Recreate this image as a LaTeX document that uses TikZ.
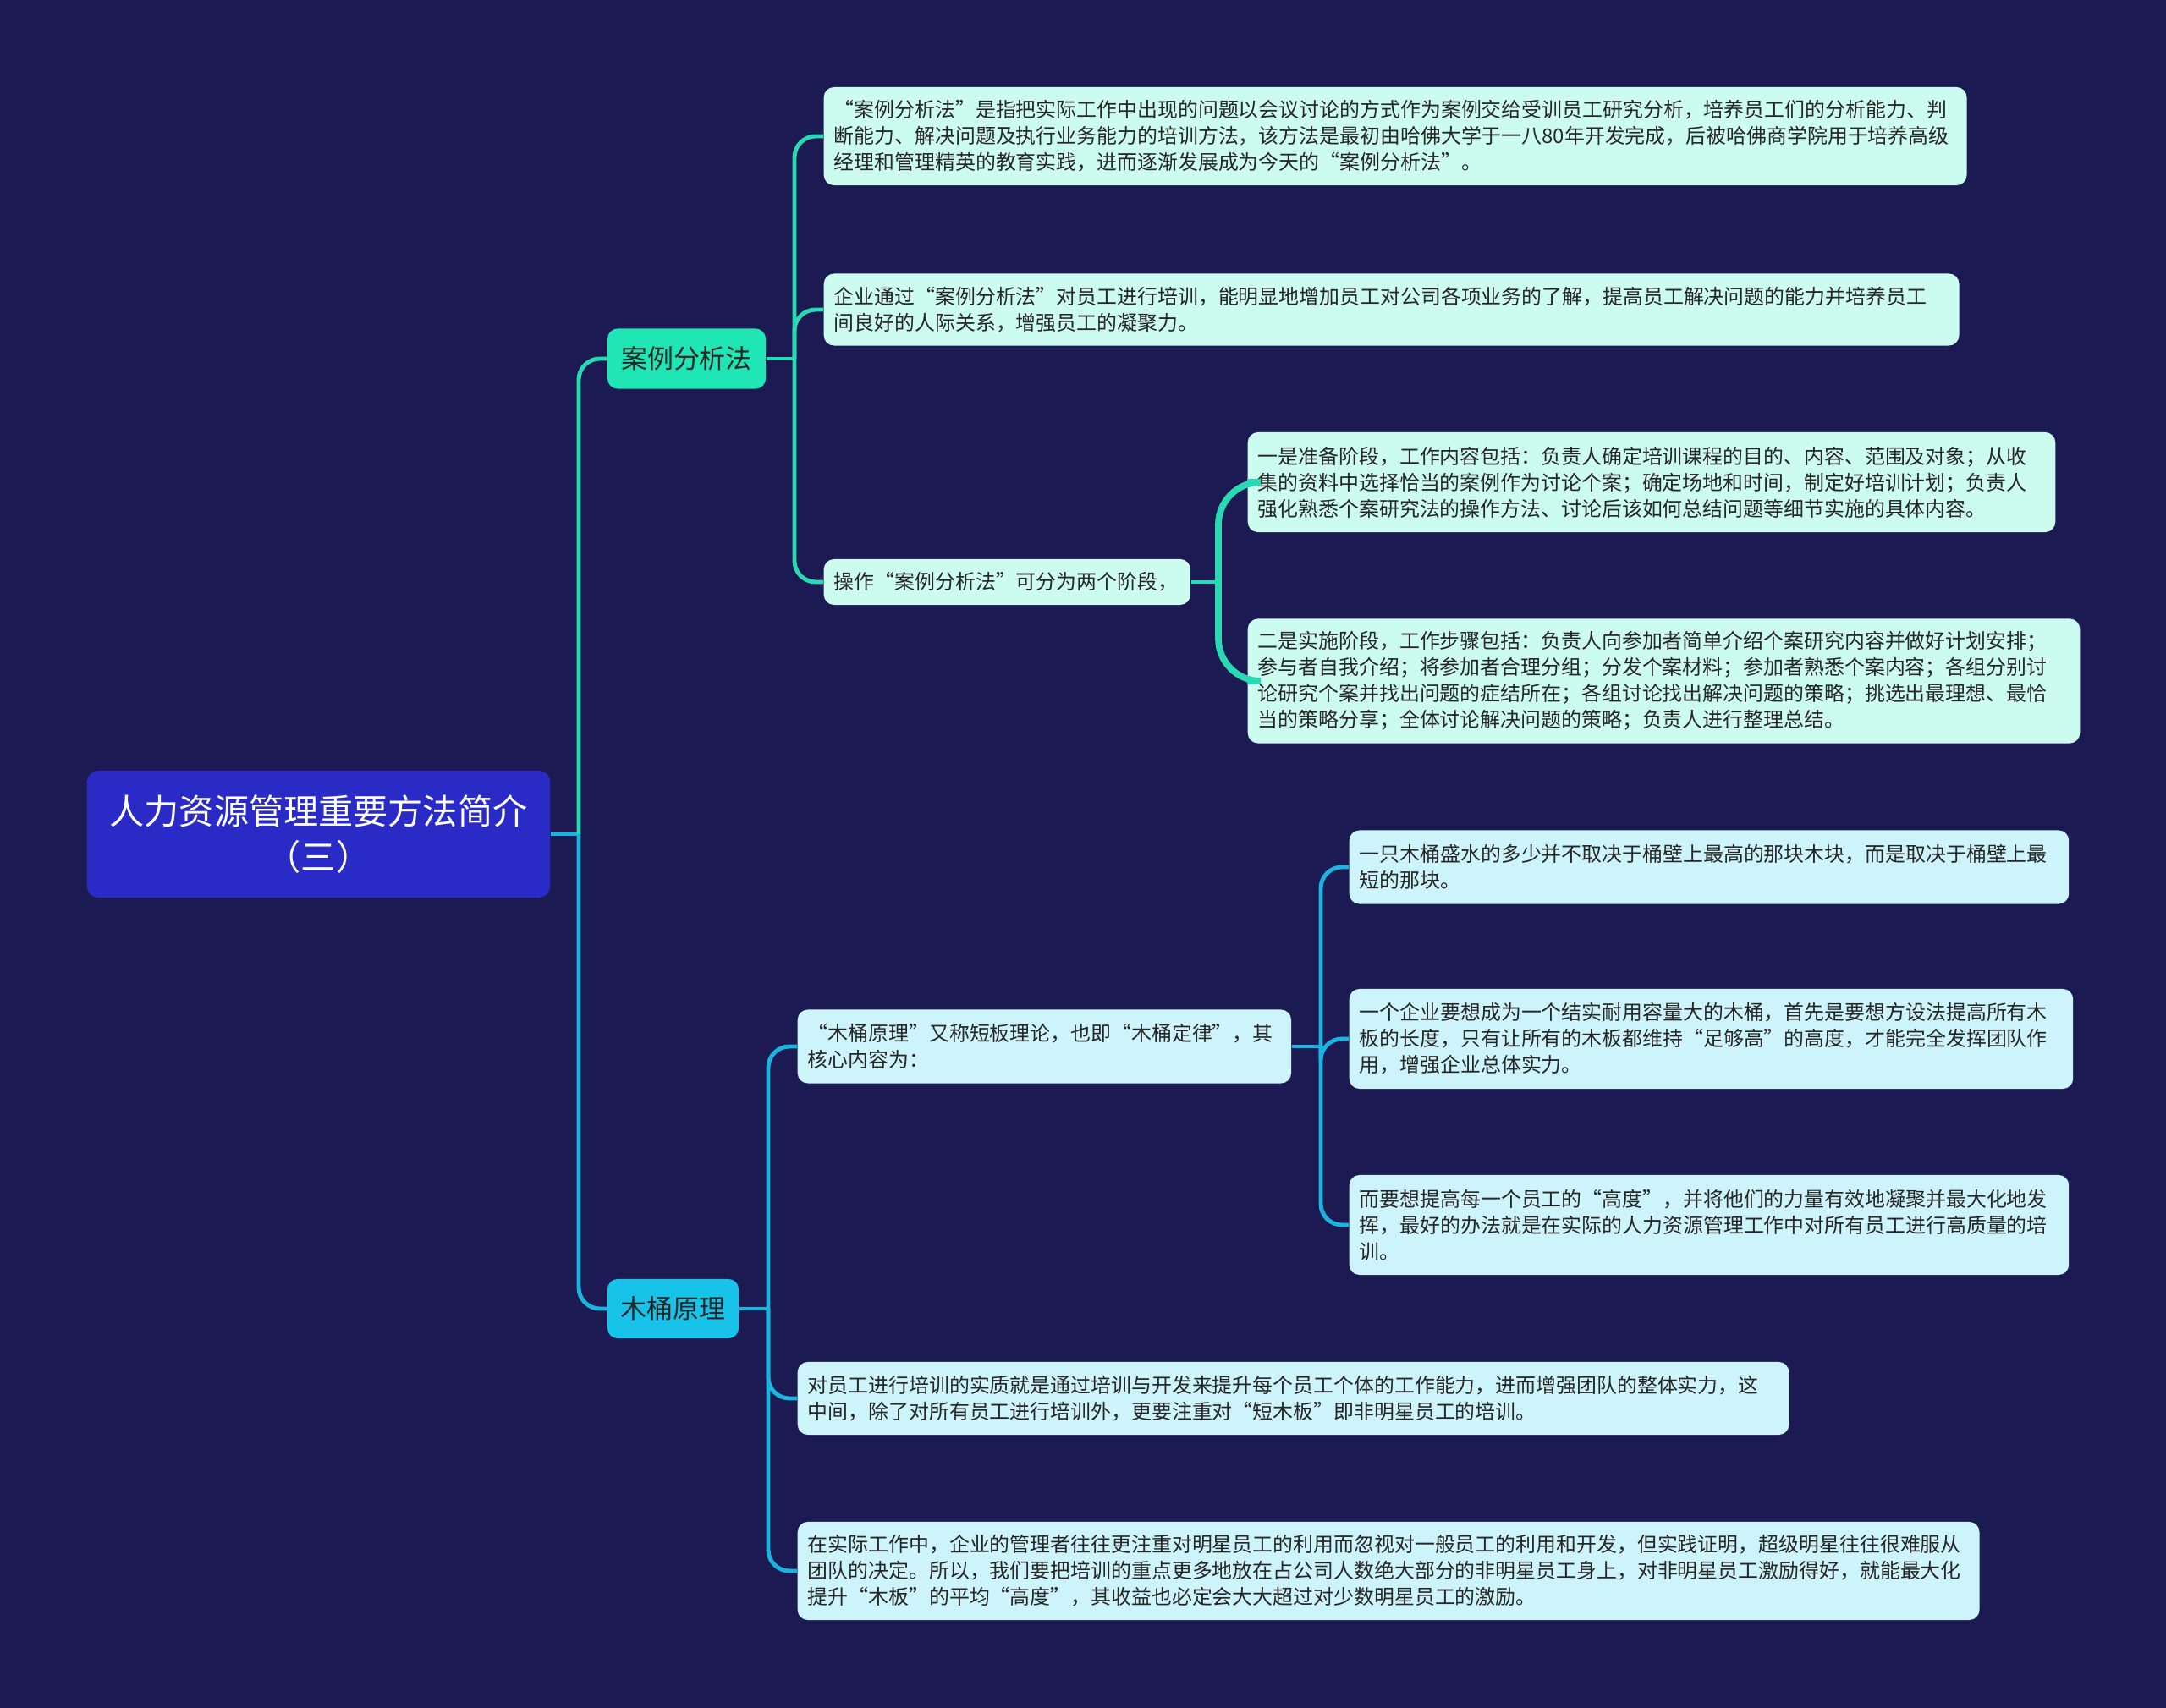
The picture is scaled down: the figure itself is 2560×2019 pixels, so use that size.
\documentclass[tikz,border=0pt]{standalone}
\usepackage{fontspec}
\setmainfont{Noto Sans CJK SC}
\usepackage{tikz}
\usetikzlibrary{positioning}

\definecolor{bgnavy}{HTML}{1B1A52}
\definecolor{rootblue}{HTML}{2A2BC6}
\definecolor{mintfill}{HTML}{1FE6B4}
\definecolor{cyanfill}{HTML}{17C3E8}
\definecolor{mintleaf}{HTML}{CCFBEF}
\definecolor{cyanleaf}{HTML}{CDF3FB}
\definecolor{mintline}{HTML}{28D9B4}
\definecolor{cyanline}{HTML}{19B4E0}
\definecolor{leaftext}{HTML}{262626}

\begin{document}
\begin{tikzpicture}[
        x=0.01cm, y=-0.01cm,
        rootbox/.style={rectangle, fill=rootblue, text=white, rounded corners=1.3mm, minimum width=5.47cm, minimum height=1.5cm, align=center, font=\fontsize{11.7pt}{15.3pt}\selectfont},
        topicA/.style={rectangle, fill=mintfill, text=leaftext, rounded corners=1.2mm, minimum width=1.87cm, minimum height=0.71cm, font=\fontsize{8.8pt}{10pt}\selectfont},
        topicB/.style={topicA, fill=cyanfill, minimum width=1.55cm, minimum height=0.70cm},
        leafA/.style={rectangle, fill=mintleaf, text=leaftext, rounded corners=1.2mm, anchor=west, inner xsep=0.12cm, inner ysep=0pt, align=left, font=\fontsize{6.8pt}{8.8pt}\selectfont},
        leafB/.style={leafA, fill=cyanleaf},
        linkA/.style={draw=mintline, line width=1.4pt, rounded corners=2.5mm},
        linkB/.style={draw=cyanline, line width=1.4pt, rounded corners=2.5mm}
    ]

    \fill[bgnavy] (0,0) rectangle (2560,2019);
    \useasboundingbox (0,0) rectangle (2560,2019);

    % Nodes
    \node[rootbox] (root) at (376.5,986) {人力资源管理重要方法简介\\（三）};
    \node[topicA] (caseM) at (811.5,424) {案例分析法};
    \node[topicB] (barrel) at (795.5,1547) {木桶原理};

    \node[leafA, text width=13.26cm, minimum height=1.16cm] (caseDef) at (973,161) {“案例分析法”是指把实际工作中出现的问题以会议讨论的方式作为案例交给受训员工研究分析，培养员工们的分析能力、判\\断能力、解决问题及执行业务能力的培训方法，该方法是最初由哈佛大学于一八80年开发完成，后被哈佛商学院用于培养高级\\经理和管理精英的教育实践，进而逐渐发展成为今天的“案例分析法”。};
    \node[leafA, text width=13.17cm, minimum height=0.85cm] (caseUse) at (973,366) {企业通过“案例分析法”对员工进行培训，能明显地增加员工对公司各项业务的了解，提高员工解决问题的能力并培养员工\\间良好的人际关系，增强员工的凝聚力。};
    \node[leafA, text width=4.09cm, minimum height=0.54cm] (caseOps) at (973,688) {操作“案例分析法”可分为两个阶段，};
    \node[leafA, text width=9.30cm, minimum height=1.18cm] (opsPrep) at (1474,570) {一是准备阶段，工作内容包括：负责人确定培训课程的目的、内容、范围及对象；从收\\集的资料中选择恰当的案例作为讨论个案；确定场地和时间，制定好培训计划；负责人\\强化熟悉个案研究法的操作方法、讨论后该如何总结问题等细节实施的具体内容。};
    \node[leafA, text width=9.59cm, minimum height=1.47cm] (opsRun) at (1474,805) {二是实施阶段，工作步骤包括：负责人向参加者简单介绍个案研究内容并做好计划安排；\\参与者自我介绍；将参加者合理分组；分发个案材料；参加者熟悉个案内容；各组分别讨\\论研究个案并找出问题的症结所在；各组讨论找出解决问题的策略；挑选出最理想、最恰\\当的策略分享；全体讨论解决问题的策略；负责人进行整理总结。};

    \node[leafB, text width=5.59cm, minimum height=0.87cm] (barrelDef) at (942,1237) {“木桶原理”又称短板理论，也即“木桶定律”，其\\核心内容为：};
    \node[leafB, text width=8.26cm, minimum height=0.87cm] (coreOne) at (1594,1025) {一只木桶盛水的多少并不取决于桶壁上最高的那块木块，而是取决于桶壁上最\\短的那块。};
    \node[leafB, text width=8.31cm, minimum height=1.18cm] (coreTwo) at (1594,1228) {一个企业要想成为一个结实耐用容量大的木桶，首先是要想方设法提高所有木\\板的长度，只有让所有的木板都维持“足够高”的高度，才能完全发挥团队作\\用，增强企业总体实力。};
    \node[leafB, text width=8.26cm, minimum height=1.18cm] (coreThree) at (1594,1448) {而要想提高每一个员工的“高度”，并将他们的力量有效地凝聚并最大化地发\\挥，最好的办法就是在实际的人力资源管理工作中对所有员工进行高质量的培\\训。};
    \node[leafB, text width=11.47cm, minimum height=0.86cm] (trainCore) at (942,1653) {对员工进行培训的实质就是通过培训与开发来提升每个员工个体的工作能力，进而增强团队的整体实力，这\\中间，除了对所有员工进行培训外，更要注重对“短木板”即非明星员工的培训。};
    \node[leafB, text width=13.72cm, minimum height=1.16cm] (trainStar) at (942,1857) {在实际工作中，企业的管理者往往更注重对明星员工的利用而忽视对一般员工的利用和开发，但实践证明，超级明星往往很难服从\\团队的决定。所以，我们要把培训的重点更多地放在占公司人数绝大部分的非明星员工身上，对非明星员工激励得好，就能最大化\\提升“木板”的平均“高度”，其收益也必定会大大超过对少数明星员工的激励。};

    % Connectors
    \coordinate (rootJ) at (684,986);
    \coordinate (caseJ) at (939,424);
    \coordinate (opsJ) at (1440,688);
    \coordinate (barrelJ) at (908,1547);
    \coordinate (defJ) at (1561,1237);

    \draw[linkB] (root.east) -- (rootJ);
    \draw[linkA] (rootJ) |- (caseM.west);
    \draw[linkB] (rootJ) |- (barrel.west);

    \draw[linkA] (caseM.east) -- (caseJ);
    \foreach \leaf in {caseDef, caseUse, caseOps}
        \draw[linkA] (caseJ) |- (\leaf.west);
    \draw[linkA] (caseOps.east) -- (opsJ);
    \foreach \leaf in {opsPrep, opsRun}
        \draw[linkA, line width=2.2pt, rounded corners=5mm] (opsJ) |- (\leaf.west);

    \draw[linkB] (barrel.east) -- (barrelJ);
    \foreach \leaf in {barrelDef, trainCore, trainStar}
        \draw[linkB] (barrelJ) |- (\leaf.west);
    \draw[linkB] (barrelDef.east) -- (defJ);
    \foreach \leaf in {coreOne, coreTwo, coreThree}
        \draw[linkB] (defJ) |- (\leaf.west);

\end{tikzpicture}
\end{document}
